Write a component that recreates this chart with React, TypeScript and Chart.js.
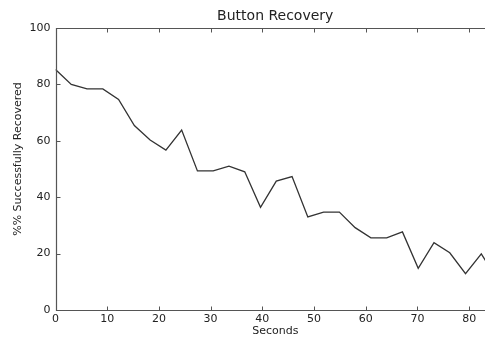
import React, { useEffect, useRef } from "react";
import { Chart, registerables } from "chart.js";

Chart.register(...registerables);

const seconds = [
  0, 3.05, 6.1, 9.15, 12.2, 15.25, 18.3, 21.35, 24.4, 27.45, 30.5, 33.55, 36.6, 39.65, 42.7,
  45.75, 48.8, 51.85, 54.9, 57.95, 61.0, 64.05, 67.1, 70.15, 73.2, 76.25, 79.3, 82.35, 85.4,
];
const recovered = [
  85.3, 80.0, 78.4, 78.4, 74.7, 65.4, 60.3, 56.7, 63.8, 49.3, 49.3, 51.0, 49.0, 36.4, 45.7,
  47.3, 33.0, 34.7, 34.7, 29.2, 25.6, 25.6, 27.7, 14.8, 23.9, 20.3, 12.9, 19.9, 11.0,
];
const xTicks = [0, 10, 20, 30, 40, 50, 60, 70, 80];
const yTicks = [0, 20, 40, 60, 80, 100];

const titleText = "Button Recovery";
const xLabel = "Seconds";
const yLabel = "%% Successfully Recovered";

const FONT = "'DejaVu Sans', sans-serif";
const TEXT = "#222";
const AXIS = "#555";

const framePlugin = {
  id: "frame",
  afterDraw(chart: any) {
    const { ctx, chartArea } = chart;
    const x = chart.scales.x;
    const y = chart.scales.y;
    const L = Math.round(chartArea.left) + 0.5;
    const R = Math.round(chartArea.right) + 0.5;
    const T = Math.round(chartArea.top) + 0.5;
    const B = Math.round(chartArea.bottom) + 0.5;
    ctx.save();
    ctx.strokeStyle = AXIS;
    ctx.lineWidth = 1.2;
    ctx.beginPath();
    ctx.rect(L, T, R - L, B - T);
    ctx.stroke();
    const tl = 4;
    ctx.lineWidth = 1;
    ctx.beginPath();
    xTicks.forEach((v) => {
      const px = Math.round(x.getPixelForValue(v)) + 0.5;
      ctx.moveTo(px, B);
      ctx.lineTo(px, B - tl);
      ctx.moveTo(px, T);
      ctx.lineTo(px, T + tl);
    });
    yTicks.forEach((v) => {
      const py = Math.round(y.getPixelForValue(v)) + 0.5;
      ctx.moveTo(L, py);
      ctx.lineTo(L + tl, py);
      ctx.moveTo(R, py);
      ctx.lineTo(R - tl, py);
    });
    ctx.stroke();

    ctx.fillStyle = TEXT;
    ctx.font = `14px ${FONT}`;
    ctx.textAlign = "center";
    ctx.textBaseline = "alphabetic";
    ctx.fillText(titleText, (chartArea.left + chartArea.right) / 2, 20);

    ctx.font = `11px ${FONT}`;
    ctx.textBaseline = "middle";
    ctx.translate(18, 159);
    ctx.rotate(-Math.PI / 2);
    ctx.fillText(yLabel, 0, 0);
    ctx.restore();
  },
};

export default function App() {
  const ref = useRef<HTMLCanvasElement | null>(null);
  useEffect(() => {
    if (!ref.current) return;
    const chart = new Chart(ref.current, {
      type: "line",
      data: {
        datasets: [
          {
            data: seconds.map((s, i) => ({ x: s, y: recovered[i] })),
            borderColor: "#333",
            borderWidth: 1.3,
            pointRadius: 0,
            tension: 0,
            fill: false,
          },
        ],
      },
      options: {
        animation: false,
        responsive: false,
        devicePixelRatio: 1,
        layout: { padding: { top: 28, right: 5, left: 0, bottom: 0 } },
        plugins: {
          legend: { display: false },
          tooltip: { enabled: false },
          title: { display: false },
        },
        scales: {
          x: {
            type: "linear",
            min: 0,
            max: 85,
            afterBuildTicks: (s: any) => {
              s.ticks = xTicks.map((v) => ({ value: v }));
            },
            afterFit: (s: any) => {
              s.height = 27;
            },
            grid: { display: false, drawTicks: false },
            border: { display: false },
            ticks: {
              padding: 3,
              maxRotation: 0,
              autoSkip: false,
              color: TEXT,
              font: { family: FONT, size: 11 },
            },
            title: {
              display: true,
              text: xLabel,
              color: TEXT,
              font: { family: FONT, size: 11 },
              padding: { top: 0, bottom: -1 },
            },
          },
          y: {
            type: "linear",
            min: 0,
            max: 100,
            afterBuildTicks: (s: any) => {
              s.ticks = yTicks.map((v) => ({ value: v }));
            },
            afterFit: (s: any) => {
              s.width = 55.5;
            },
            grid: { display: false, drawTicks: false },
            border: { display: false },
            ticks: {
              padding: 5,
              autoSkip: false,
              color: TEXT,
              font: { family: FONT, size: 11 },
            },
          },
        },
      },
      plugins: [framePlugin],
    });
    return () => chart.destroy();
  }, []);
  return (
    <div
      style={{
        position: "fixed",
        left: 0,
        top: 0,
        width: 485,
        height: 337,
        overflow: "hidden",
        background: "#fff",
      }}
    >
      <canvas ref={ref} width={500} height={337} style={{ display: "block" }} />
    </div>
  );
}
